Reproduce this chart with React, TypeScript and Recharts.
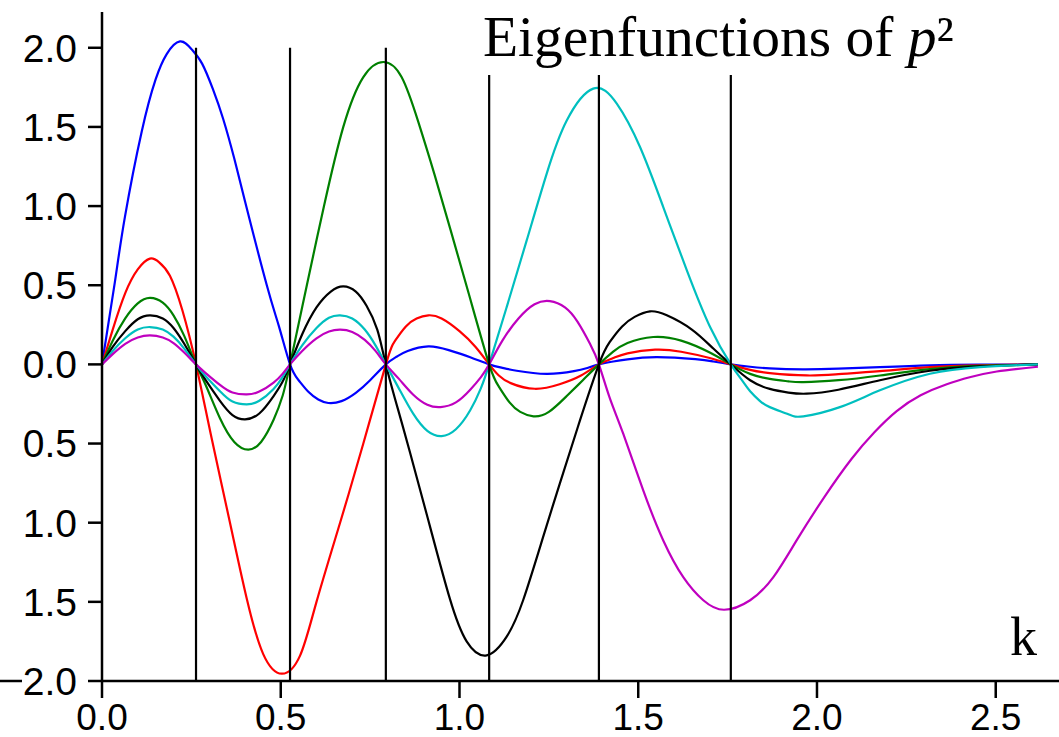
import React from 'react';
import { LineChart, Line, XAxis, YAxis, ReferenceLine } from 'recharts';

// nodes where the vertical markers sit
const nodes = [0.263, 0.526, 0.794, 1.083, 1.39, 1.759];

const xTicks = [0, 0.5, 1, 1.5, 2, 2.5];
const yTicks = [-2, -1.5, -1, -0.5, 0, 0.5, 1, 1.5, 2];

const blueX = [0, 0.036, 0.064, 0.111, 0.15, 0.181, 0.218, 0.251, 0.28, 0.31, 0.339, 0.37, 0.4, 0.461, 0.495, 0.526, 0.55, 0.578, 0.605, 0.633, 0.67, 0.71, 0.75, 0.794, 0.825, 0.855, 0.913, 0.97, 1.03, 1.083, 1.12, 1.16, 1.244, 1.32, 1.355, 1.39, 1.43, 1.47, 1.551, 1.66, 1.71, 1.759, 1.813, 1.868, 1.96, 2.06, 2.176, 2.316, 2.456, 2.618];
const blueY = [0, 0.52, 0.93, 1.47, 1.8, 1.96, 2.04, 1.99, 1.9, 1.74, 1.55, 1.3, 1.03, 0.5, 0.24, 0, -0.1, -0.175, -0.222, -0.244, -0.232, -0.18, -0.1, 0, 0.05, 0.085, 0.114, 0.09, 0.045, 0, -0.022, -0.04, -0.06, -0.043, -0.024, 0, 0.018, 0.032, 0.046, 0.033, 0.018, 0, -0.015, -0.025, -0.031, -0.027, -0.017, -0.006, -0.002, 0];

const redX = [0, 0.03, 0.065, 0.1, 0.134, 0.16, 0.19, 0.225, 0.263, 0.307, 0.358, 0.405, 0.451, 0.503, 0.554, 0.6, 0.666, 0.731, 0.794, 0.82, 0.85, 0.88, 0.913, 0.95, 1.0, 1.045, 1.083, 1.11, 1.145, 1.211, 1.28, 1.34, 1.39, 1.43, 1.47, 1.547, 1.62, 1.7, 1.759, 1.813, 1.868, 1.971, 2.06, 2.176, 2.316, 2.456, 2.618];
const redY = [0, 0.22, 0.45, 0.6, 0.668, 0.645, 0.56, 0.34, 0, -0.47, -1.0, -1.48, -1.83, -1.954, -1.84, -1.5, -1.0, -0.5, 0, 0.15, 0.24, 0.29, 0.31, 0.29, 0.21, 0.11, 0, -0.07, -0.12, -0.154, -0.125, -0.07, 0, 0.04, 0.07, 0.093, 0.08, 0.04, 0, -0.035, -0.055, -0.07, -0.062, -0.043, -0.017, -0.006, 0];

const greenX = [0, 0.03, 0.065, 0.1, 0.134, 0.17, 0.2, 0.23, 0.263, 0.29, 0.33, 0.37, 0.409, 0.445, 0.48, 0.505, 0.526, 0.573, 0.621, 0.675, 0.731, 0.787, 0.838, 0.885, 0.93, 0.975, 1.028, 1.083, 1.11, 1.14, 1.17, 1.207, 1.25, 1.3, 1.345, 1.39, 1.43, 1.47, 1.542, 1.62, 1.7, 1.759, 1.813, 1.868, 1.92, 1.962, 2.06, 2.176, 2.316, 2.456, 2.618];
const greenY = [0, 0.15, 0.29, 0.385, 0.42, 0.39, 0.31, 0.18, 0, -0.13, -0.34, -0.49, -0.539, -0.49, -0.35, -0.2, 0, 0.5, 1.0, 1.5, 1.815, 1.91, 1.815, 1.53, 1.2, 0.85, 0.43, 0, -0.14, -0.24, -0.3, -0.328, -0.3, -0.2, -0.1, 0, 0.08, 0.135, 0.173, 0.15, 0.075, 0, -0.06, -0.092, -0.107, -0.112, -0.1, -0.07, -0.03, -0.01, 0];

const blackX = [0, 0.03, 0.065, 0.1, 0.134, 0.17, 0.2, 0.23, 0.263, 0.29, 0.33, 0.365, 0.4, 0.44, 0.48, 0.505, 0.526, 0.56, 0.6, 0.64, 0.675, 0.71, 0.74, 0.77, 0.794, 0.83, 0.862, 0.917, 0.973, 1.02, 1.076, 1.132, 1.178, 1.234, 1.281, 1.337, 1.39, 1.42, 1.455, 1.49, 1.533, 1.58, 1.65, 1.71, 1.759, 1.813, 1.868, 1.92, 1.971, 2.06, 2.176, 2.316, 2.456, 2.618];
const blackY = [0, 0.11, 0.21, 0.285, 0.31, 0.29, 0.23, 0.13, 0, -0.1, -0.23, -0.32, -0.347, -0.31, -0.2, -0.11, 0, 0.19, 0.36, 0.46, 0.493, 0.46, 0.37, 0.22, 0, -0.3, -0.56, -1.02, -1.48, -1.75, -1.838, -1.72, -1.49, -1.09, -0.75, -0.354, 0, 0.14, 0.24, 0.3, 0.335, 0.31, 0.22, 0.1, 0, -0.1, -0.155, -0.178, -0.185, -0.16, -0.1, -0.04, -0.013, 0];

const cyanX = [0, 0.03, 0.065, 0.1, 0.134, 0.17, 0.2, 0.23, 0.263, 0.29, 0.33, 0.365, 0.405, 0.44, 0.48, 0.505, 0.526, 0.56, 0.6, 0.635, 0.666, 0.7, 0.735, 0.765, 0.794, 0.83, 0.87, 0.91, 0.95, 0.99, 1.03, 1.06, 1.083, 1.132, 1.188, 1.244, 1.3, 1.374, 1.44, 1.505, 1.57, 1.636, 1.701, 1.759, 1.79, 1.813, 1.84, 1.868, 1.92, 1.962, 2.064, 2.176, 2.316, 2.456, 2.618];
const cyanY = [0, 0.085, 0.165, 0.22, 0.236, 0.22, 0.175, 0.1, 0, -0.075, -0.17, -0.235, -0.253, -0.23, -0.155, -0.08, 0, 0.12, 0.23, 0.295, 0.31, 0.29, 0.22, 0.12, 0, -0.15, -0.31, -0.42, -0.453, -0.41, -0.29, -0.15, 0, 0.362, 0.783, 1.205, 1.54, 1.742, 1.647, 1.373, 0.994, 0.594, 0.236, 0, -0.1, -0.17, -0.23, -0.27, -0.315, -0.328, -0.27, -0.164, -0.059, -0.017, 0];

const magentaX = [0, 0.03, 0.065, 0.1, 0.134, 0.17, 0.2, 0.23, 0.263, 0.29, 0.33, 0.365, 0.405, 0.44, 0.48, 0.505, 0.526, 0.56, 0.6, 0.635, 0.666, 0.7, 0.735, 0.765, 0.794, 0.83, 0.87, 0.91, 0.947, 0.99, 1.03, 1.06, 1.083, 1.12, 1.165, 1.21, 1.253, 1.295, 1.33, 1.365, 1.39, 1.42, 1.458, 1.514, 1.57, 1.626, 1.682, 1.74, 1.813, 1.878, 1.943, 2.02, 2.097, 2.16, 2.223, 2.29, 2.363, 2.43, 2.503, 2.618];
const magentaY = [0, 0.065, 0.13, 0.17, 0.183, 0.17, 0.135, 0.075, 0, -0.055, -0.13, -0.178, -0.19, -0.172, -0.115, -0.06, 0, 0.085, 0.165, 0.208, 0.219, 0.205, 0.155, 0.085, 0, -0.09, -0.19, -0.255, -0.27, -0.24, -0.16, -0.08, 0, 0.15, 0.29, 0.38, 0.4, 0.36, 0.27, 0.13, 0, -0.21, -0.438, -0.796, -1.112, -1.344, -1.49, -1.55, -1.49, -1.344, -1.112, -0.84, -0.596, -0.43, -0.295, -0.195, -0.125, -0.08, -0.045, -0.015];

const zip = (xs: number[], ys: number[]) => xs.map((x, i) => ({ x, y: ys[i] }));

const series = [
  { key: 'blue', color: '#0000ff', data: zip(blueX, blueY) },
  { key: 'red', color: '#ff0000', data: zip(redX, redY) },
  { key: 'green', color: '#008000', data: zip(greenX, greenY) },
  { key: 'black', color: '#000000', data: zip(blackX, blackY) },
  { key: 'cyan', color: '#00bfbf', data: zip(cyanX, cyanY) },
  { key: 'magenta', color: '#bf00bf', data: zip(magentaX, magentaY) },
];

const sans = '"Liberation Sans", Arial, Helvetica, sans-serif';
const serif = '"Liberation Serif", "Times New Roman", serif';

// y labels are shown without sign; the bottom one has the axis running through it
const YTick = (props: any) => {
  const { x, y, payload } = props;
  const v = payload.value as number;
  return (
    <g>
      {v === -2 && <line x1={0} x2={x - 55} y1={y} y2={y} stroke="#000" strokeWidth={2.5} />}
      <text x={x} y={y} dy="0.355em" textAnchor="end" fontSize={39} fontFamily={sans} fill="#000">
        {Math.abs(v).toFixed(1)}
      </text>
    </g>
  );
};

export default function App() {
  return (
    <div style={{ position: 'absolute', left: 0, top: 0, width: 1059, height: 737, background: '#fff' }}>
      <LineChart width={1059} height={737} margin={{ top: 12, right: 0, bottom: 0, left: 0 }}>
        <XAxis
          type="number"
          dataKey="x"
          domain={[0, 2.677]}
          allowDataOverflow
          ticks={xTicks}
          interval={0}
          height={56}
          tickSize={17}
          tickMargin={6}
          axisLine={{ stroke: '#000', strokeWidth: 2.5 }}
          tickLine={{ stroke: '#000', strokeWidth: 2.5 }}
          tick={{ fontSize: 37, fill: '#000', fontFamily: sans }}
          tickFormatter={(v: number) => v.toFixed(1)}
        />
        <YAxis
          type="number"
          dataKey="y"
          domain={[-2, 2.226]}
          allowDataOverflow
          ticks={yTicks}
          interval={0}
          width={102}
          tickSize={14}
          tickMargin={11}
          axisLine={{ stroke: '#000', strokeWidth: 2.5 }}
          tickLine={{ stroke: '#000', strokeWidth: 2.5 }}
          tick={<YTick />}
        />
        {series.map(s => (
          <Line
            key={s.key}
            data={s.data}
            dataKey="y"
            type="natural"
            stroke={s.color}
            strokeWidth={2.2}
            dot={false}
            isAnimationActive={false}
          />
        ))}
        {nodes.map(n => (
          <ReferenceLine
            key={n}
            segment={[{ x: n, y: -2 }, { x: n, y: 2 }]}
            stroke="#000"
            strokeWidth={2.2}
            ifOverflow="visible"
          />
        ))}
      </LineChart>
      <svg width={1059} height={737} style={{ position: 'absolute', left: 0, top: 0, pointerEvents: 'none' }}>
        <rect x={476} y={0} width={500} height={75} fill="#fff" />
        <text x={483} y={56} fontFamily={serif} fontSize={57.5} fill="#000">
          Eigenfunctions of <tspan fontStyle="italic">p</tspan>
          <tspan>²</tspan>
        </text>
        <text x={1010} y={655} fontFamily={serif} fontSize={54} fill="#000">k</text>
      </svg>
    </div>
  );
}
